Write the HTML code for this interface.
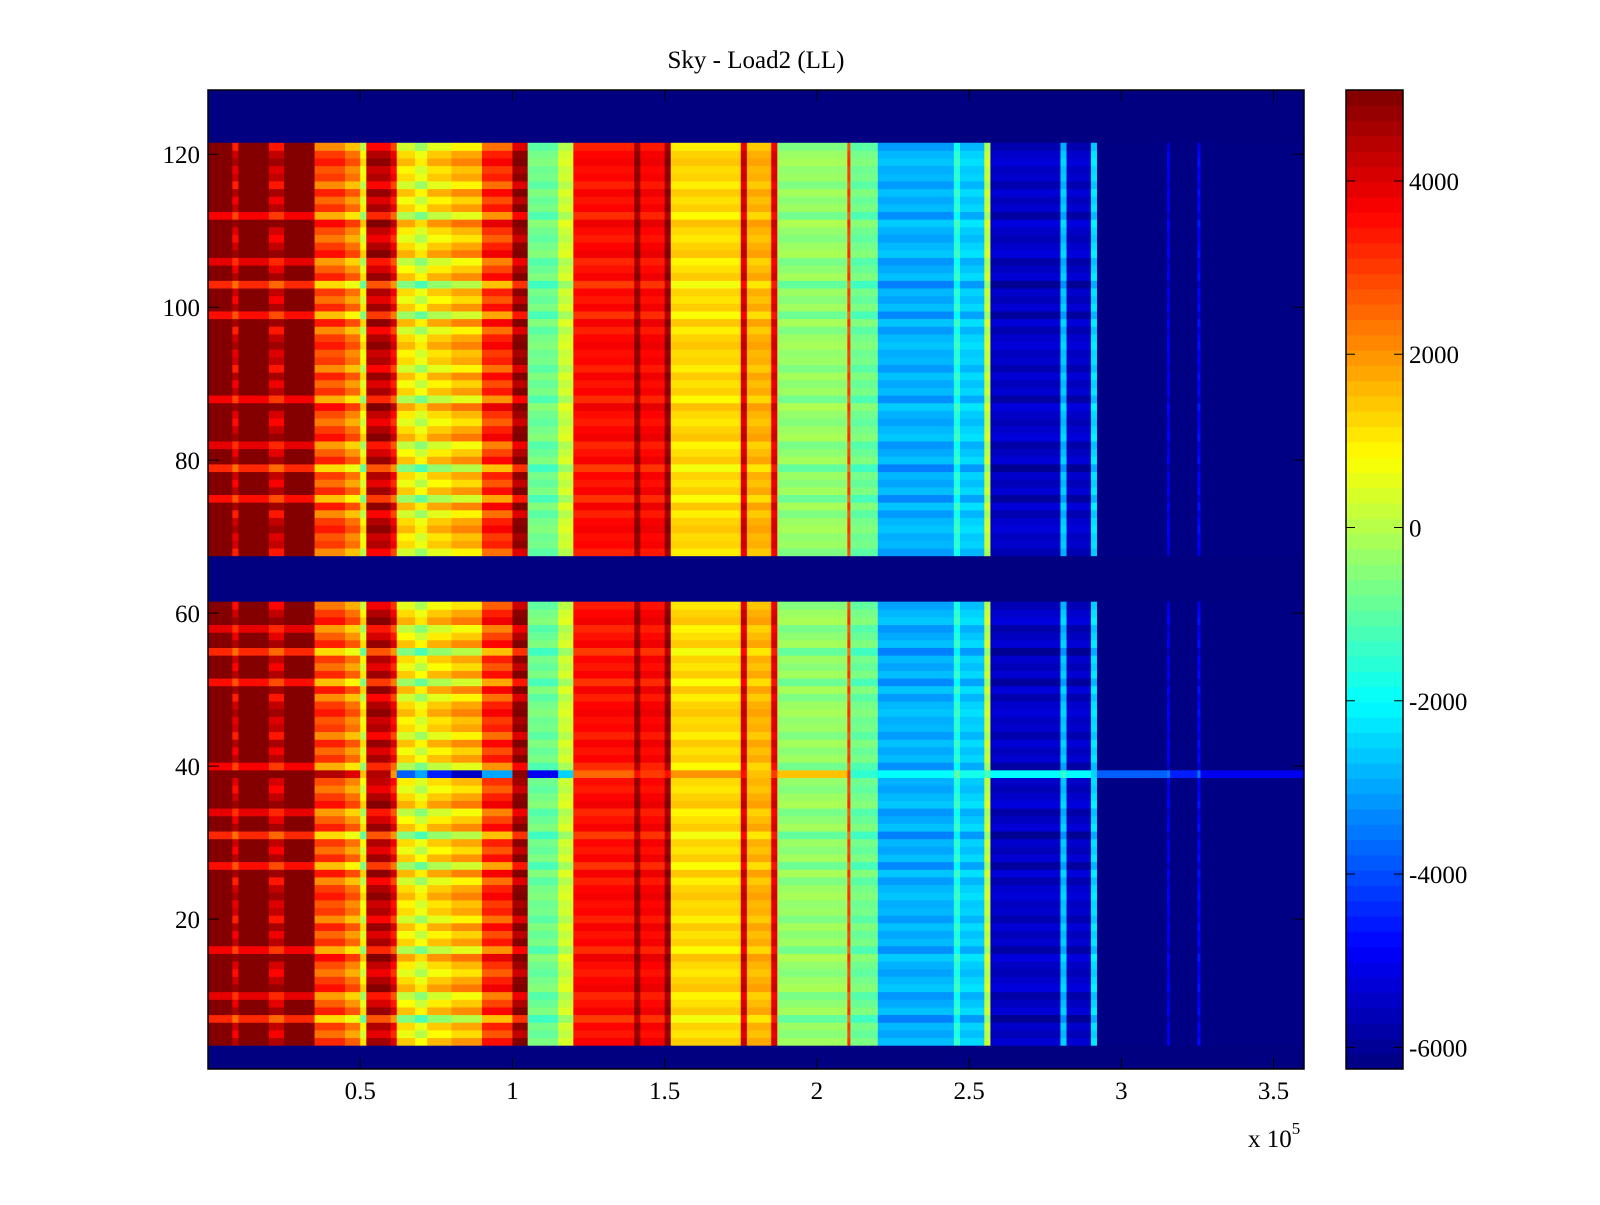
<!DOCTYPE html>
<html><head><meta charset="utf-8"><style>
body{margin:0;background:#fff;}
svg text{font-family:"Liberation Serif",serif;font-size:25px;fill:#000;}
</style></head><body>
<svg id="chart" width="1600" height="1200" xmlns="http://www.w3.org/2000/svg">
<text x="756" y="68" text-anchor="middle" font-size="26">Sky - Load2 (LL)</text>
<g id="cells"></g>
<g id="cbar"></g>
<g id="axes"></g>
</svg>
<script>
// data (x in units of 1e5)
const colEdges=[0,0.08,0.1,0.2,0.25,0.35,0.45,0.5,0.52,0.6,0.62,0.68,0.72,0.8,0.9,1.0,1.05,1.15,1.2,1.4,1.42,1.5,1.52,1.75,1.77,1.85,1.87,2.1,2.11,2.2,2.45,2.47,2.55,2.57,2.8,2.82,2.9,2.92,3.15,3.16,3.25,3.26,3.6];
const colVals=[5000,4200,5000,4300,5000,3000,2400,900,4500,3800,1200,600,1400,1800,3300,4900,-700,300,3600,4900,3700,4900,1300,4200,1700,4000,-300,3000,-700,-2800,-1500,-2500,200,-5400,-2600,-5400,-2300,-6200,-5000,-6200,-4800,-6200];
const rowLo=[4,68]; const rowHi=[61,121];
const rowOff=[0,-900,400,-1500,200,-600,0,-1800,300,-400,-1100,500,0,-700,-200,600,-1300,100,-500,300,-900,0,-300,400];
const specialRow=39; const specialVals=[5000,5000,5000,5000,5000,4500,4000,1500,4500,2000,-3800,-3000,-4500,-5500,-3000,4900,-5000,-2500,2500,3500,3000,3500,2000,3500,1500,3000,1500,3000,-1500,-2000,-1000,-1800,-1200,-2000,-1500,-2000,-2500,-3800,-3500,-4500,-3500,-5000];
const xTicks=[0.5,1,1.5,2,2.5,3,3.5]; const xTickLabels=["0.5","1","1.5","2","2.5","3","3.5"];
const yTicks=[20,40,60,80,100,120];
const cTicks=[4000,2000,0,-2000,-4000,-6000];
const vMin=-6250, vMax=5050;
const X0=208,X1=1304,Y0=90,Y1=1069;
const xs=v=>X0+(v-0)/(3.6-0)*(X1-X0);
const ys=v=>Y1-(v-0.4)/(128.4-0.4)*(Y1-Y0);
function jet(v){let t=Math.max(0,Math.min(1,(v-vMin)/(vMax-vMin)));
 const f=(a)=>Math.max(0,Math.min(1,1.5-Math.abs(4*t-a)));
 return `rgb(${Math.round(f(3)*255)},${Math.round(f(2)*255)},${Math.round(f(1)*255)})`;}
const NS="http://www.w3.org/2000/svg";
function mk(tag,attrs,parent){const e=document.createElementNS(NS,tag);for(const k in attrs)e.setAttribute(k,attrs[k]);parent.appendChild(e);return e;}
const cells=document.getElementById('cells');
const bg=mk('rect',{x:X0,y:Y0,width:X1-X0,height:Y1-Y0,fill:jet(vMin)},cells);


for(let b=0;b<2;b++){for(let r=rowLo[b];r<=rowHi[b];r++){for(let c=0;c<colVals.length;c++){
 let v=colVals[c];
 if(r===specialRow)v=specialVals[c];
 else if(v>-5800){v+=rowOff[r%rowOff.length]*(colEdges[c]<1.05?1:0.35);}
 if(colEdges[c]<0.35 && colVals[c]>=5000 && rowOff[r%rowOff.length]>-1000) v=5000;
 const x=xs(colEdges[c]),w=xs(colEdges[c+1])-x,y=ys(r+0.5);
 const e=mk('rect',{x:x,y:y,width:w+0.4,height:ys(r-0.5)-y+0.4,fill:jet(v)},cells);
 
 
}}}
const axes=document.getElementById('axes');
mk('rect',{x:X0,y:Y0,width:X1-X0,height:Y1-Y0,fill:'none',stroke:'#000','stroke-width':1.5},axes);
xTicks.forEach((t,i)=>{const x=xs(t);
 mk('line',{x1:x,x2:x,y1:Y1,y2:Y1-11,stroke:'#000'},axes);mk('line',{x1:x,x2:x,y1:Y0,y2:Y0+11,stroke:'#000'},axes);
 const tx=mk('text',{x:x,y:1099,'text-anchor':'middle'},axes);tx.textContent=xTickLabels[i];
 
 });
yTicks.forEach(t=>{const y=ys(t);
 mk('line',{x1:X0,x2:X0+11,y1:y,y2:y,stroke:'#000'},axes);mk('line',{x1:X1,x2:X1-11,y1:y,y2:y,stroke:'#000'},axes);
 const tx=mk('text',{x:200,y:y+9,'text-anchor':'end'},axes);tx.textContent=t;
 
 });
const ex=mk('text',{x:1248,y:1147},axes);ex.innerHTML='x 10<tspan dy="-13" font-size="17">5</tspan>';


// colorbar
const cb=document.getElementById('cbar');const C0=1346,C1=1403;
const cy=v=>Y1-(v-vMin)/(vMax-vMin)*(Y1-Y0);
for(let i=0;i<64;i++){const a=vMin+i*(vMax-vMin)/64,b2=vMin+(i+1)*(vMax-vMin)/64;
 const e=mk('rect',{x:C0,y:cy(b2),width:C1-C0,height:cy(a)-cy(b2)+0.5,fill:jet((a+b2)/2)},cb);
 
 }
mk('rect',{x:C0,y:Y0,width:C1-C0,height:Y1-Y0,fill:'none',stroke:'#000','stroke-width':1.5},cb);
cTicks.forEach(t=>{const y=cy(t);
 mk('line',{x1:C0,x2:C0+9,y1:y,y2:y,stroke:'#000'},cb);mk('line',{x1:C1,x2:C1-9,y1:y,y2:y,stroke:'#000'},cb);
 const tx=mk('text',{x:1409,y:y+9},cb);tx.textContent=t;
 
 });
</script>
</body></html>
